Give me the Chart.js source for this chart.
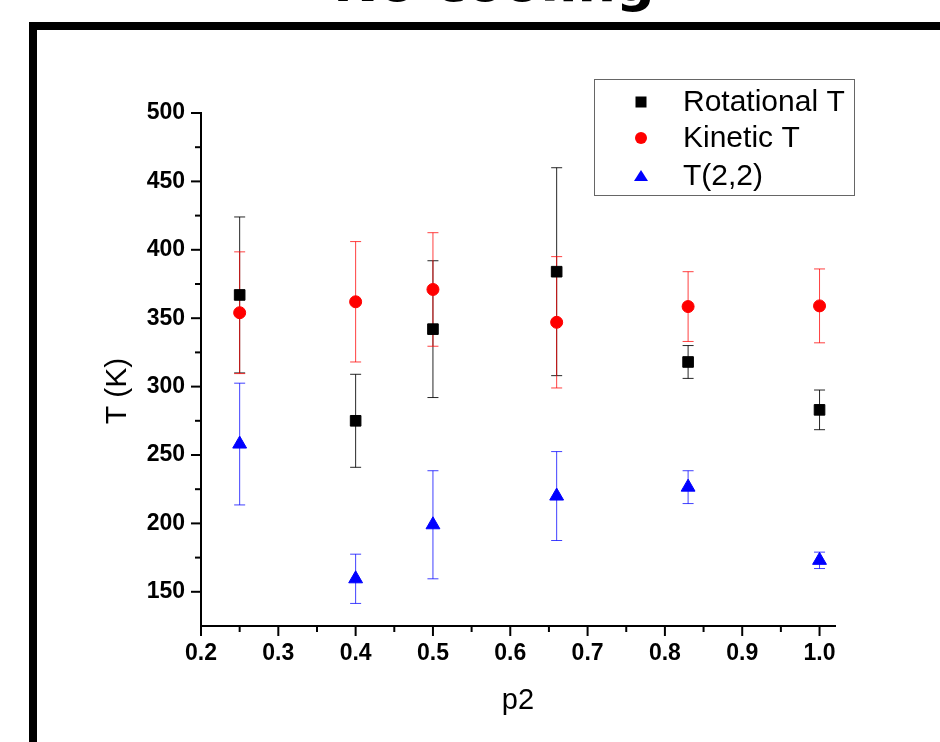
<!DOCTYPE html>
<html><head><meta charset="utf-8">
<script src="https://cdn.jsdelivr.net/npm/chart.js@4.4.0/dist/chart.umd.min.js"></script>
<style>
html,body{margin:0;padding:0;background:#fff;overflow:hidden;width:940px;height:742px;}
#frame{position:absolute;left:29px;top:22px;width:1000px;height:800px;border:8px solid #000;box-sizing:border-box;}
#title{position:absolute;left:494px;top:-44px;transform:translateX(-50%);font-family:'DejaVu Sans';font-weight:bold;font-size:54px;line-height:54px;white-space:nowrap;color:#000;}
canvas{position:absolute;left:0;top:0;}
</style></head><body>
<div id="title">No cooling</div>
<div id="frame"></div>
<canvas id="c" width="940" height="742"></canvas>
<script>
// ---- data ----
const p2 = [0.25, 0.4, 0.5, 0.66, 0.83, 1.0];
const rotationalT = [367, 275, 342, 384, 318, 283];
const rotationalErr = [57, 34, 50, 76, 12, 14.5];
const kineticT = [354, 362, 371, 347, 358.5, 359];
const kineticErr = [44.5, 44, 41.5, 48, 25.5, 27];
const t22 = [258, 159.5, 199, 220, 226.5, 173];
const t22Err = [44.5, 18, 39.5, 32.5, 12, 6];
const seriesNames = ['Rotational T', 'Kinetic T', 'T(2,2)'];
const xTickValues = [0.2, 0.3, 0.4, 0.5, 0.6, 0.7, 0.8, 0.9, 1.0];
const xTickLabels = ['0.2', '0.3', '0.4', '0.5', '0.6', '0.7', '0.8', '0.9', '1.0'];
const yTickValues = [150, 200, 250, 300, 350, 400, 450, 500];
const yTickLabels = ['150', '200', '250', '300', '350', '400', '450', '500'];
const xTitle = 'p2';
const yTitle = 'T (K)';

const toPts = (ys) => p2.map((x, i) => ({ x: x, y: ys[i] }));

const errorBars = {
  id: 'errorBars',
  beforeDatasetsDraw(chart) {
    const { ctx, scales: { x, y } } = chart;
    ctx.save();
    ctx.lineWidth = 1;
    chart.data.datasets.forEach((ds) => {
      ctx.strokeStyle = ds.errorColor;
      ds.data.forEach((pt, j) => {
        const e = ds.errors[j];
        const px = x.getPixelForValue(pt.x);
        const yt = y.getPixelForValue(pt.y + e);
        const yb = y.getPixelForValue(pt.y - e);
        ctx.beginPath();
        ctx.moveTo(px, yt); ctx.lineTo(px, yb);
        ctx.moveTo(px - 5.5, yt); ctx.lineTo(px + 5.5, yt);
        ctx.moveTo(px - 5.5, yb); ctx.lineTo(px + 5.5, yb);
        ctx.stroke();
      });
    });
    ctx.restore();
  }
};

const tickMarks = {
  id: 'tickMarks',
  afterDraw(chart) {
    const { ctx, scales: { x, y }, chartArea } = chart;
    ctx.save();
    ctx.strokeStyle = '#000';
    ctx.lineWidth = 2;
    const xt = x.ticks.map(t => t.value);
    const xs = xt[1] - xt[0];
    xt.forEach((v) => {
      const px = x.getPixelForValue(v);
      ctx.beginPath(); ctx.moveTo(px, chartArea.bottom); ctx.lineTo(px, chartArea.bottom + 10); ctx.stroke();
      const m = v + xs / 2;
      if (m < x.max) {
        const pm = x.getPixelForValue(m);
        ctx.beginPath(); ctx.moveTo(pm, chartArea.bottom); ctx.lineTo(pm, chartArea.bottom + 6); ctx.stroke();
      }
    });
    const yt = y.ticks.map(t => t.value);
    const ys = yt[1] - yt[0];
    yt.forEach((v) => {
      const py = y.getPixelForValue(v);
      ctx.beginPath(); ctx.moveTo(chartArea.left - 10, py); ctx.lineTo(chartArea.left, py); ctx.stroke();
      const m = v - ys / 2;
      if (m > y.min) {
        const pm = y.getPixelForValue(m);
        ctx.beginPath(); ctx.moveTo(chartArea.left - 6, pm); ctx.lineTo(chartArea.left, pm); ctx.stroke();
      }
    });
    // y axis title
    ctx.fillStyle = '#000';
    ctx.font = '30px "Liberation Sans", Arial, sans-serif';
    ctx.textAlign = 'center';
    ctx.textBaseline = 'middle';
    ctx.translate(118, 391);
    ctx.rotate(-Math.PI / 2);
    ctx.fillText(yTitle, 0, 0);
    ctx.restore();
  }
};

const boxLegend = {
  id: 'boxLegend',
  afterDraw(chart) {
    const { ctx } = chart;
    ctx.save();
    ctx.strokeStyle = '#666';
    ctx.lineWidth = 1;
    ctx.strokeRect(594.5, 79.5, 260, 116);
    const rows = [102, 138, 176];
    const bases = [110.7, 147.3, 185];
    ctx.font = '30px "Liberation Sans", Arial, sans-serif';
    ctx.textBaseline = 'alphabetic';
    ctx.textAlign = 'left';
    chart.data.datasets.forEach((ds, i) => {
      const cx = 641, cy = rows[i];
      ctx.fillStyle = ds.backgroundColor;
      ctx.beginPath();
      if (ds.pointStyle === 'rect') {
        ctx.rect(cx - 5.5, cy - 5.5, 11, 11);
      } else if (ds.pointStyle === 'circle') {
        ctx.arc(cx, cy, 6, 0, Math.PI * 2);
      } else {
        ctx.moveTo(cx, cy - 6); ctx.lineTo(cx + 7, cy + 5); ctx.lineTo(cx - 7, cy + 5); ctx.closePath();
      }
      ctx.fill();
      ctx.fillStyle = '#000';
      ctx.fillText(ds.label, 683, bases[i]);
    });
    ctx.restore();
  }
};

const tickFont = { family: 'Liberation Sans', size: 23, weight: 'bold' };

new Chart(document.getElementById('c'), {
  type: 'scatter',
  data: {
    datasets: [
      { label: seriesNames[0], data: toPts(rotationalT), errors: rotationalErr, errorColor: 'rgba(0,0,0,0.85)',
        pointStyle: 'rect', pointRadius: 7.5, backgroundColor: '#000000', borderColor: '#000000', borderWidth: 1 },
      { label: seriesNames[1], data: toPts(kineticT), errors: kineticErr, errorColor: 'rgba(255,0,0,0.75)',
        pointStyle: 'circle', pointRadius: 6, backgroundColor: '#ff0000', borderColor: '#ff0000', borderWidth: 1 },
      { label: seriesNames[2], data: toPts(t22), errors: t22Err, errorColor: 'rgba(0,0,255,0.75)',
        pointStyle: 'triangle', pointRadius: 8, backgroundColor: '#0000ff', borderColor: '#0000ff', borderWidth: 1 }
    ]
  },
  options: {
    responsive: false,
    devicePixelRatio: 1,
    animation: false,
    layout: { padding: { top: 113, right: 105, left: 0, bottom: 0 } },
    plugins: { legend: { display: false }, tooltip: { enabled: false } },
    scales: {
      x: {
        type: 'linear', position: 'bottom', min: 0.2, max: 1.02,
        afterFit: (s) => { s.height = 116; },
        afterBuildTicks: (s) => { s.ticks = xTickValues.map(v => ({ value: v })); },
        ticks: { callback: (v, i) => xTickLabels[i], font: tickFont, color: '#000', padding: 4, maxRotation: 0, autoSkip: false },
        grid: { drawOnChartArea: false, color: 'rgba(0,0,0,0)', tickLength: 10 },
        border: { display: true, color: '#000', width: 2 },
        title: { display: true, text: xTitle, color: '#000', font: { family: 'Liberation Sans', size: 29 }, padding: { top: 0, bottom: 24 } }
      },
      y: {
        type: 'linear', position: 'left', min: 125, max: 500,
        afterFit: (s) => { s.width = 201; },
        afterBuildTicks: (s) => { s.ticks = yTickValues.map(v => ({ value: v })); },
        ticks: { callback: (v, i) => yTickLabels[i], font: tickFont, color: '#000', padding: 6, autoSkip: false },
        grid: { drawOnChartArea: false, color: 'rgba(0,0,0,0)', tickLength: 10 },
        border: { display: true, color: '#000', width: 2 }
      }
    }
  },
  plugins: [errorBars, tickMarks, boxLegend]
});
</script>
</body></html>
